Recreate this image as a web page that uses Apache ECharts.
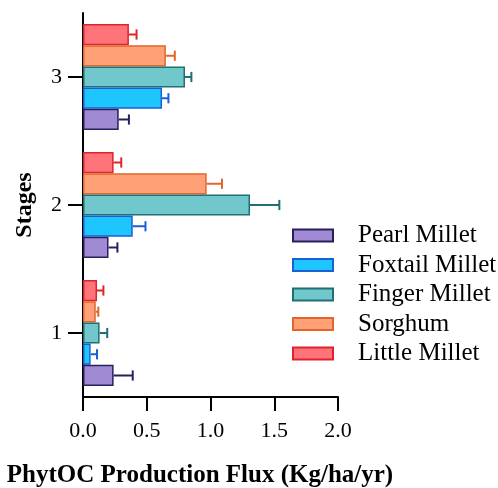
<!DOCTYPE html>
<html>
<head>
<meta charset="utf-8">
<script src="https://cdn.jsdelivr.net/npm/echarts@6/dist/echarts.min.js"></script>
<style>html,body{margin:0;padding:0;background:#fff;}#c{width:498px;height:488px;}</style>
</head>
<body>
<div id="c"></div>
<script>
const stages = ['1', '2', '3'];
const xTicks = [0, 0.5, 1.0, 1.5, 2.0];
const seriesNames = ['Pearl Millet', 'Foxtail Millet', 'Finger Millet', 'Sorghum', 'Little Millet'];
const pearlMillet   = [0.24, 0.20, 0.28];
const foxtailMillet = [0.06, 0.39, 0.62];
const fingerMillet  = [0.13, 1.31, 0.80];
const sorghum       = [0.10, 0.97, 0.65];
const littleMillet  = [0.11, 0.24, 0.36];
const pearlErr   = [0.15, 0.07, 0.08];
const foxtailErr = [0.05, 0.10, 0.05];
const fingerErr  = [0.06, 0.23, 0.05];
const sorghumErr = [0.02, 0.12, 0.07];
const littleErr  = [0.05, 0.06, 0.06];

const values = [pearlMillet, foxtailMillet, fingerMillet, sorghum, littleMillet];
const errs = [pearlErr, foxtailErr, fingerErr, sorghumErr, littleErr];
const fills = ['#a08ad4', '#1ec6ff', '#70c7cc', '#ffa077', '#ff737a'];
const borders = ['#2a1f5c', '#1a5fd6', '#1f6f73', '#e0662c', '#e0222a'];
const CAT_GAP = 0.17;
const FONT = 'Liberation Serif';

const chart = echarts.init(document.getElementById('c'), null, {renderer: 'canvas'});
const series = [];
// ECharts stacks the first bar series at the top of a band; add in reverse so Pearl is at the bottom
for (let i = values.length - 1; i >= 0; i--) {
  series.push({
    name: seriesNames[i], type: 'bar', data: values[i],
    barGap: '0%', barCategoryGap: (CAT_GAP * 100) + '%',
    itemStyle: {color: fills[i], borderColor: borders[i], borderWidth: 1.5},
    z: 2
  });
}
values.forEach((vals, i) => {
  series.push({
    name: 'err' + i, type: 'custom', z: 3,
    data: vals.map((v, k) => [v + errs[i][k], k, v]),
    encode: {x: 0, y: 1},
    renderItem: function (params, api) {
      const k = api.value(1), v = api.value(2), hi = api.value(0);
      const p0 = api.coord([v, k]);
      const p1 = api.coord([hi, k]);
      const band = api.size([0, 1])[1];
      const bw = band * (1 - CAT_GAP) / 5;
      const y = p0[1] + (2 - i) * bw;
      const cap = bw * 0.24;
      const st = {stroke: borders[i], lineWidth: 2};
      return {type: 'group', children: [
        {type: 'line', shape: {x1: p0[0], y1: y, x2: p1[0], y2: y}, style: st},
        {type: 'line', shape: {x1: p1[0], y1: y - cap, x2: p1[0], y2: y + cap}, style: st}
      ]};
    }
  });
});

chart.setOption({
  backgroundColor: '#fff',
  animation: false,
  textStyle: {fontFamily: FONT, color: '#000'},
  grid: {left: 83, right: 160, top: 13, bottom: 91, containLabel: false, outerBoundsMode: 'none'},
  legend: {
    data: seriesNames, orient: 'vertical', left: 287, top: 218,
    itemWidth: 40, itemHeight: 12, itemGap: 4.5, icon: 'rect',
    textStyle: {fontFamily: FONT, fontSize: 25, lineHeight: 25, color: '#000', padding: [0, 0, 0, 20]}
  },
  xAxis: {
    type: 'value', min: xTicks[0], max: xTicks[xTicks.length - 1], interval: 0.5,
    name: 'PhytOC Production Flux (Kg/ha/yr)', nameLocation: 'middle', nameGap: 66,
    nameTextStyle: {fontFamily: FONT, fontSize: 25, fontWeight: 'bold', color: '#000', padding: [0, 21, 0, 0]},
    axisLine: {show: true, lineStyle: {color: '#000', width: 2}},
    axisTick: {show: true, length: 14, lineStyle: {color: '#000', width: 2}},
    axisLabel: {fontFamily: FONT, fontSize: 22, color: '#000', margin: 23, formatter: v => v.toFixed(1)},
    splitLine: {show: false}
  },
  yAxis: {
    type: 'category', data: stages,
    name: 'Stages', nameLocation: 'middle', nameGap: 46,
    nameTextStyle: {fontFamily: FONT, fontSize: 24, fontWeight: 'bold', color: '#000'},
    axisLine: {show: true, lineStyle: {color: '#000', width: 2}},
    axisTick: {show: true, length: 15, alignWithLabel: true, lineStyle: {color: '#000', width: 2}},
    axisLabel: {fontFamily: FONT, fontSize: 22, color: '#000', margin: 21}
  },
  series: series
});
</script>
</body>
</html>
